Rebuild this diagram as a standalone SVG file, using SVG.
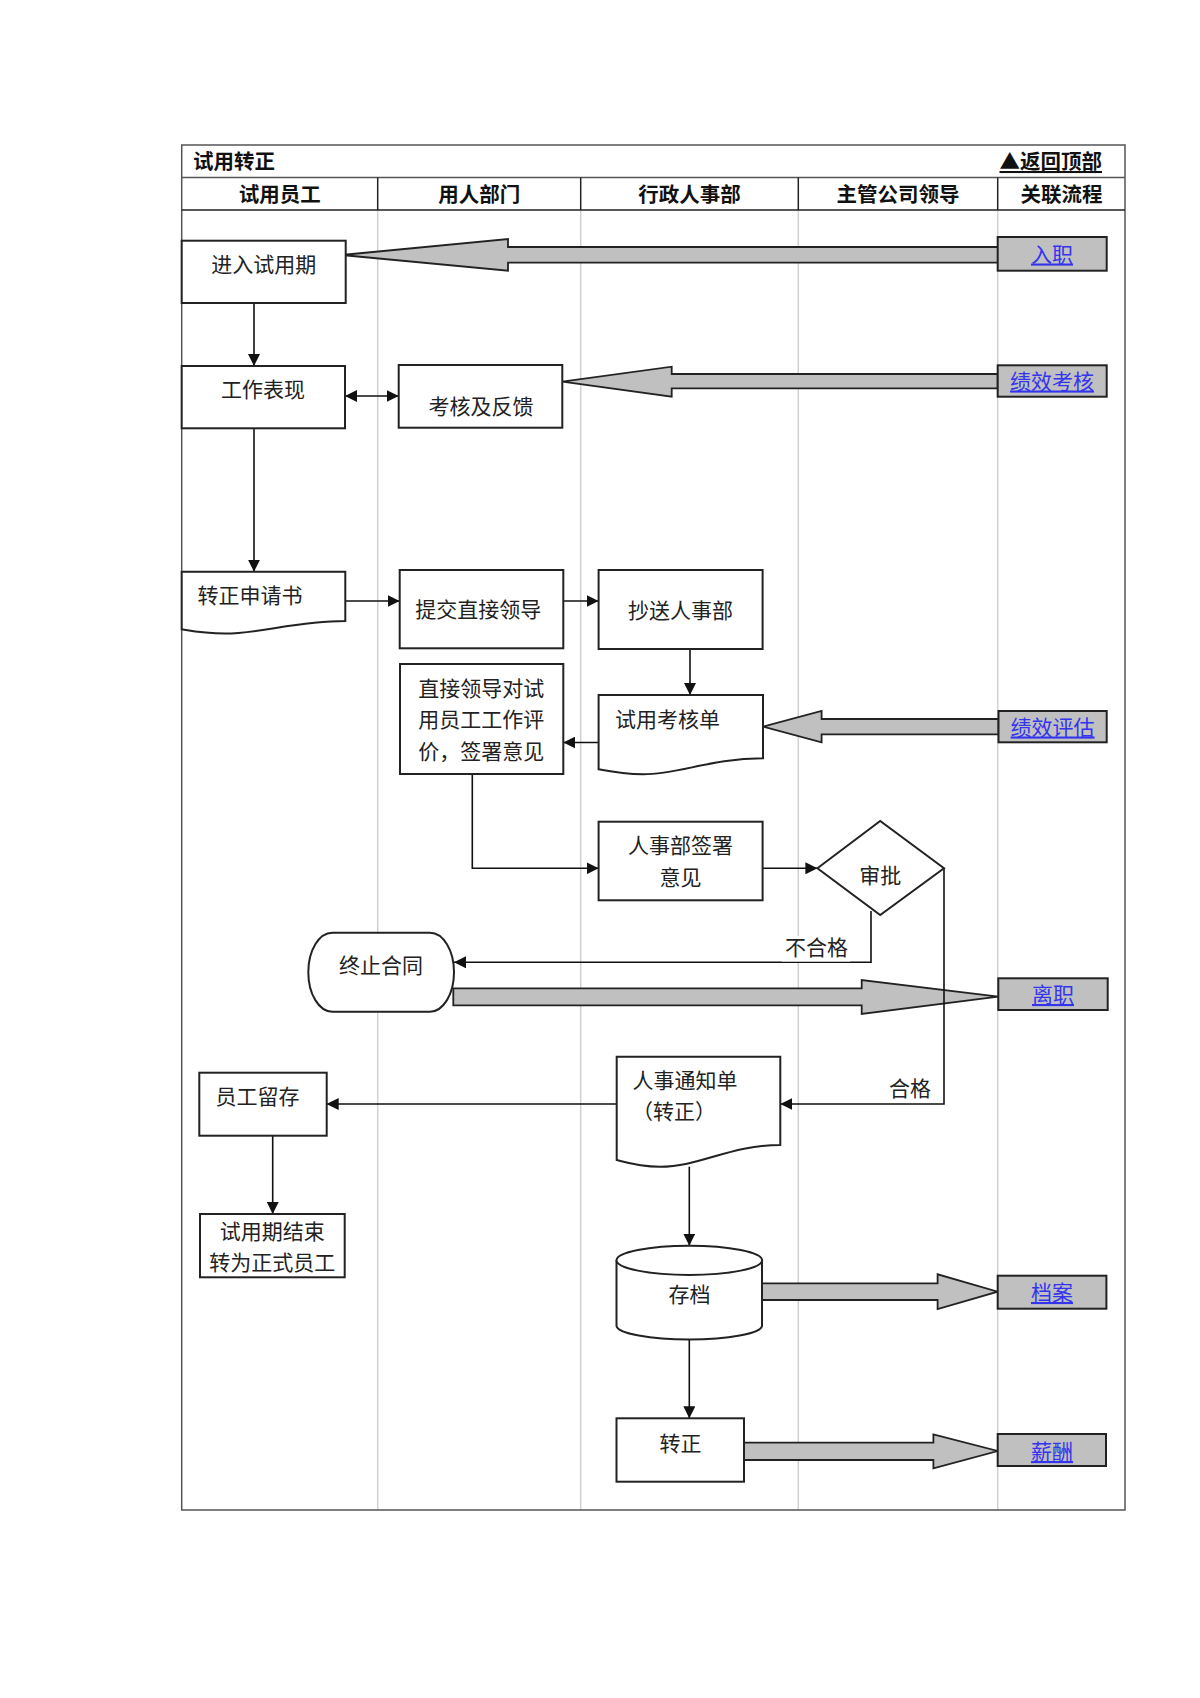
<svg xmlns="http://www.w3.org/2000/svg" width="1200" height="1698" viewBox="0 0 1200 1698">
<style>
text{font-family:"Noto Sans CJK SC","Noto Sans",sans-serif;font-size:21px;fill:#222}
.hd{font-weight:bold;fill:#111;font-size:20.5px}
.c{text-anchor:middle}
.box{fill:#fff;stroke:#222;stroke-width:2}
.lnk rect{fill:#c0c0c0;stroke:#222;stroke-width:2}
.lnk text{fill:#3434ee;text-decoration:underline;text-anchor:middle}
.big{fill:#c0c0c0;stroke:#222;stroke-width:1.8;stroke-linejoin:miter}
.con{fill:none;stroke:#111;stroke-width:1.6}
.lane{stroke:#d0d0d0;stroke-width:1.5}
.hline{stroke:#555;stroke-width:1.5}
</style>
<defs>
<marker id="ah" markerUnits="userSpaceOnUse" markerWidth="12" markerHeight="12" refX="12" refY="6" orient="auto-start-reverse">
<path d="M0,0 L12,6 L0,12 z" fill="#111"/>
</marker>
</defs>
<rect width="1200" height="1698" fill="#fff"/>

<g id="frame">
<line class="lane" x1="377.7" y1="210" x2="377.7" y2="1510"/>
<line class="lane" x1="580.7" y1="210" x2="580.7" y2="1510"/>
<line class="lane" x1="798.3" y1="210" x2="798.3" y2="1510"/>
<line class="lane" x1="997.7" y1="210" x2="997.7" y2="1510"/>
<rect x="181.7" y="145" width="943.3" height="1365" fill="none" stroke="#555" stroke-width="1.5"/>
<line class="hline" x1="181.7" y1="177.5" x2="1125" y2="177.5"/>
<line x1="181.7" y1="210" x2="1125" y2="210" stroke="#222" stroke-width="1.5"/>
<line x1="377.7" y1="177.5" x2="377.7" y2="210" stroke="#222" stroke-width="1.5"/>
<line x1="580.7" y1="177.5" x2="580.7" y2="210" stroke="#222" stroke-width="1.5"/>
<line x1="798.3" y1="177.5" x2="798.3" y2="210" stroke="#222" stroke-width="1.5"/>
<line x1="997.7" y1="177.5" x2="997.7" y2="210" stroke="#222" stroke-width="1.5"/>
<text class="hd" x="193" y="169">试用转正</text>
<text class="hd" x="1102" y="169" text-anchor="end" text-decoration="underline">▲返回顶部</text>
<text class="hd c" x="279.7" y="202">试用员工</text>
<text class="hd c" x="479.2" y="202">用人部门</text>
<text class="hd c" x="689.5" y="202">行政人事部</text>
<text class="hd c" x="898" y="202">主管公司领导</text>
<text class="hd c" x="1061.4" y="202">关联流程</text>
</g>

<g id="bigarrows">
<path class="big" d="M998,247 H508 V239 L341.7,255 L508,270.7 V262.7 H998 Z"/>
<path class="big" d="M997.7,374 H671.7 V366.7 L562.3,381.7 L671.7,396.7 V388.3 H997.7 Z"/>
<path class="big" d="M998.5,719 H821.6 V711 L763,726.7 L821.6,742.3 V734.3 H998.5 Z"/>
<path class="big" d="M453.3,988.3 H861.7 V980 L998.3,996.7 L861.7,1014 V1005.3 H453.3 Z"/>
<path class="big" d="M761,1283.3 H937.6 V1274.3 L997.7,1291.7 L937.6,1309 V1300 H761 Z"/>
<path class="big" d="M744,1442.7 H933.4 V1434.3 L997.7,1451 L933.4,1468.3 V1460 H744 Z"/>
</g>

<g id="connectors">
<path class="con" d="M254,303 V366" marker-end="url(#ah)"/>
<path class="con" d="M345,396 H398.7" marker-start="url(#ah)" marker-end="url(#ah)"/>
<path class="con" d="M254,428.3 V571.7" marker-end="url(#ah)"/>
<path class="con" d="M345.3,601 H399.7" marker-end="url(#ah)"/>
<path class="con" d="M563.3,601 H598.6" marker-end="url(#ah)"/>
<path class="con" d="M690,649 V695" marker-end="url(#ah)"/>
<path class="con" d="M598.6,742.5 H563.3" marker-end="url(#ah)"/>
<path class="con" d="M472.3,774 V868.3 H598.6" marker-end="url(#ah)"/>
<path class="con" d="M762.6,868.3 H817.4" marker-end="url(#ah)"/>
<path class="con" d="M871,911 V962.3 H454" marker-end="url(#ah)"/>
<path class="con" d="M944,868.3 V1104 H780.3" marker-end="url(#ah)"/>
<path class="con" d="M616.7,1104 H326.7" marker-end="url(#ah)"/>
<path class="con" d="M272.7,1135.7 V1214" marker-end="url(#ah)"/>
<path class="con" d="M689.3,1166.7 V1245.7" marker-end="url(#ah)"/>
<path class="con" d="M689.3,1340 V1418.3" marker-end="url(#ah)"/>
<rect x="782" y="936" width="68" height="25.5" fill="#fff"/>
<text x="785" y="954.5">不合格</text>
<text x="889" y="1095.5">合格</text>
</g>

<g id="n-enter"><rect class="box" x="181.7" y="240.7" width="164" height="62.3"/><text class="c" x="263.7" y="272">进入试用期</text></g>
<g id="n-perf"><rect class="box" x="181.7" y="366" width="163.3" height="62.3"/><text class="c" x="263" y="397">工作表现</text></g>
<g id="n-review"><rect class="box" x="398.7" y="365" width="163.6" height="62.7"/><text class="c" x="481" y="413.5">考核及反馈</text></g>
<g id="n-apply"><path class="box" d="M181.7,571.7 H345.3 V621 C295,621 262,633.5 225,633.5 C205,633.5 192,631 181.7,629.3 Z"/><text class="c" x="250" y="603">转正申请书</text></g>
<g id="n-submit"><rect class="box" x="399.7" y="570" width="163.6" height="78.3"/><text class="c" x="478.3" y="617">提交直接领导</text></g>
<g id="n-cc"><rect class="box" x="598.6" y="570" width="164" height="79"/><text class="c" x="680.6" y="617.5">抄送人事部</text></g>
<g id="n-eval"><rect class="box" x="400" y="664" width="163.3" height="110"/><text class="c" x="481.2" y="696">直接领导对试</text><text class="c" x="481.2" y="727">用员工工作评</text><text class="c" x="481.2" y="758.5">价，签署意见</text></g>
<g id="n-form"><path class="box" d="M598.6,695 H763 V758.3 C710,758.3 680,774.3 643,774.3 C625,774.3 610,771.5 598.6,769.3 Z"/><text class="c" x="667.5" y="727">试用考核单</text></g>
<g id="n-hrsign"><rect class="box" x="598.6" y="821.7" width="164" height="78.6"/><text class="c" x="680.6" y="853">人事部签署</text><text class="c" x="680.6" y="885">意见</text></g>
<g id="n-approve"><path class="box" d="M817.4,868.3 L880.2,821 L944,868.3 L880.2,915 Z"/><text class="c" x="880.2" y="883">审批</text></g>
<g id="n-terminate"><rect class="box" x="308.3" y="932.7" width="145.7" height="79" rx="24" ry="39.5"/><text class="c" x="381" y="973">终止合同</text></g>
<g id="n-notice"><path class="box" d="M616.7,1056.7 H780.3 V1145 C730,1145 700,1166.7 660,1166.7 C640,1166.7 628,1163 616.7,1160 Z"/><text class="c" x="685" y="1088">人事通知单</text><text class="c" x="674" y="1119">（转正）</text></g>
<g id="n-keep"><rect class="box" x="199.3" y="1072.7" width="127.4" height="63"/><text class="c" x="257.5" y="1104">员工留存</text></g>
<g id="n-end"><rect class="box" x="200" y="1214" width="144.7" height="63.3"/><text class="c" x="272.3" y="1238.5">试用期结束</text><text class="c" x="272.3" y="1270">转为正式员工</text></g>
<g id="n-archive"><path class="box" d="M616.5,1260.3 V1326 A72.8,14 0 0 0 762,1326 V1260.3"/><ellipse class="box" cx="689.3" cy="1260.3" rx="72.8" ry="14.6"/><text class="c" x="689.5" y="1302">存档</text></g>
<g id="n-regular"><rect class="box" x="616.5" y="1418.3" width="127.5" height="63.4"/><text class="c" x="680.5" y="1451">转正</text></g>

<g id="l-entry" class="lnk"><rect x="997.7" y="237" width="109" height="33.7"/><text x="1052" y="261.5">入职</text></g>
<g id="l-kpi" class="lnk"><rect x="997.7" y="365.3" width="109" height="31.4"/><text x="1052" y="388.5">绩效考核</text></g>
<g id="l-eval" class="lnk"><rect x="998.5" y="711" width="108.2" height="31.3"/><text x="1052.6" y="734.5">绩效评估</text></g>
<g id="l-leave" class="lnk"><rect x="998.3" y="978.3" width="109.4" height="31.7"/><text x="1053" y="1002">离职</text></g>
<g id="l-file" class="lnk"><rect x="997.7" y="1275.7" width="108.7" height="33"/><text x="1052" y="1300">档案</text></g>
<g id="l-pay" class="lnk"><rect x="997.7" y="1434" width="108.3" height="32"/><text x="1052" y="1459">薪酬</text></g>
</svg>
